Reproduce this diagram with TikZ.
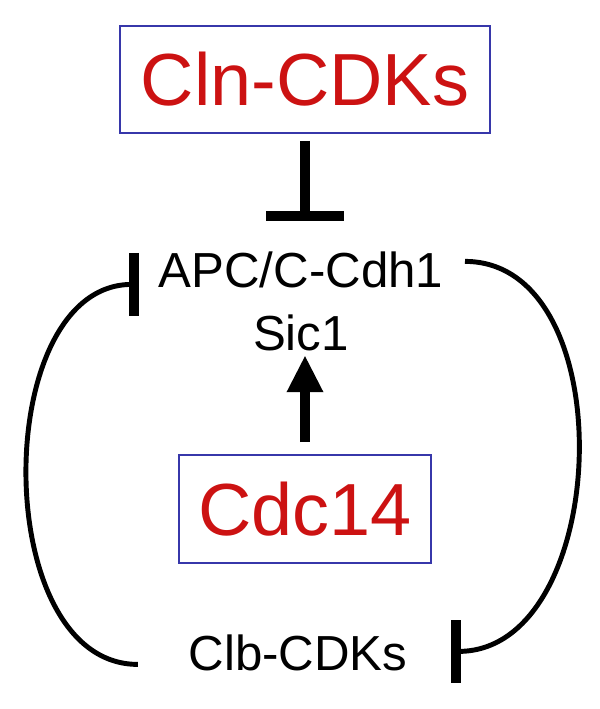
\documentclass[tikz,border=0pt]{standalone}
\usepackage{fontspec}
\setmainfont{Liberation Sans}
\usetikzlibrary{arrows.meta}
\definecolor{cellred}{RGB}{204,18,18}
\definecolor{boxblue}{RGB}{55,55,170}
\begin{document}
\begin{tikzpicture}[x=0.01cm, y=-0.01cm,
  regbox/.style={draw=boxblue, line width=0.5pt, text=cellred, inner sep=0pt,
                 font=\fontsize{21}{25}\selectfont},
  species/.style={inner sep=0pt, font=\fontsize{14}{17}\selectfont},
  inhib/.style={line width=2.8pt, -{Bar[width=7.7mm]}},
  loopinhib/.style={line width=1.4pt, -{Bar[width=6.3mm, line width=2.8pt]}},
  activ/.style={line width=2.8pt, -{Triangle[width=3.4mm, length=3.7mm]}}]
\useasboundingbox (0, 0) rectangle (600, 709);

\node[regbox, minimum width=3.7cm, minimum height=1.07cm] (cln) at (305, 79.5) {Cln-CDKs};
\node[regbox, minimum width=2.52cm, minimum height=1.08cm] (cdc) at (305, 509) {Cdc14};

\node[species, anchor=base] (apc) at (301, 287) {APC/C-Cdh1};
\node[species, anchor=base] (sic) at (301, 350) {Sic1};
\node[species, anchor=base] (clb) at (298, 670) {Clb-CDKs};

% Cln-CDKs inhibit APC/C-Cdh1
\draw[inhib] ([yshift=-0.07cm]cln.south) -- ([yshift=0.3cm]cln.south |- apc.north);
% Cdc14 activates
\draw[activ] ([yshift=0.12cm]cdc.north) -- ([yshift=-0.04cm]cdc.north |- sic.south);
% mutual inhibition loop
\draw[loopinhib] ([xshift=-0.5cm, yshift=-0.12cm]clb.west)
  to[out=180, in=180, looseness=1.0] ([xshift=-0.19cm, yshift=-0.15cm]apc.west);
\draw[loopinhib] ([xshift=0.21cm, yshift=0.08cm]apc.east)
  to[out=0, in=0, looseness=1.05] ([xshift=0.43cm, yshift=0.01cm]clb.east);
\end{tikzpicture}
\end{document}
